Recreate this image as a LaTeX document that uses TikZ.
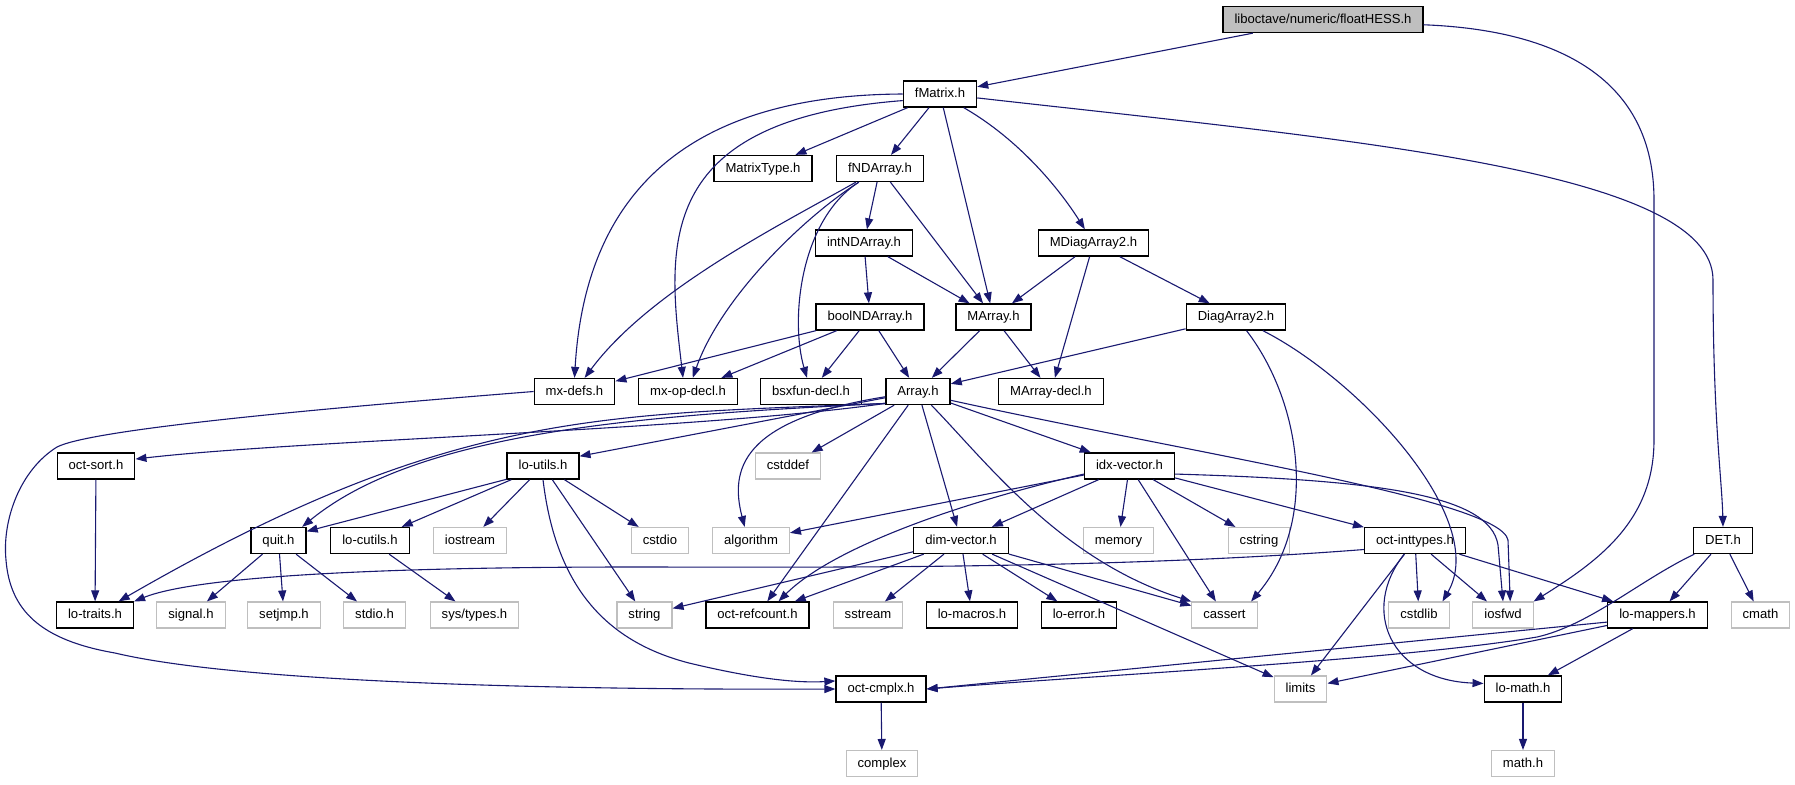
\documentclass[tikz,border=0pt]{standalone}
\usepackage{fontspec}
\setmainfont{Liberation Sans}
\usetikzlibrary{arrows.meta}
\definecolor{edgeblue}{HTML}{191970}
\definecolor{sysgray}{HTML}{BFBFBF}
\tikzset{
	hdr/.style={draw=black, fill=white, line width=0.65pt, inner xsep=5.75pt, inner ysep=0pt, minimum height=13pt, text height=4.8pt, text depth=1.2pt, font=\fontsize{6.55}{7.8}\selectfont},
	sys/.style={hdr, draw=sysgray, line width=0.55pt},
	root/.style={hdr, fill=sysgray},
	dep/.style={draw=edgeblue, line width=0.55pt, -{Triangle[length=5.5pt,width=4pt]}},
}

\begin{document}
\begin{tikzpicture}[x=0.5pt, y=-0.5pt]
			%%%%% START %%%%%
			
			\useasboundingbox (0,0) rectangle (1795,784);
			
			\node[root] (hess) at (1323,19.5) {liboctave/numeric/floatHESS.h};
			\node[hdr] (fmatrix) at (940,94) {fMatrix.h};
			
			\node[hdr] (mtype) at (763,168.5) {MatrixType.h};
			\node[hdr] (fnd) at (880,168.5) {fNDArray.h};
			
			\node[hdr] (intnd) at (864,243) {intNDArray.h};
			\node[hdr] (mdiag) at (1093.5,243) {MDiagArray2.h};
			
			\node[hdr] (boolnd) at (870,317) {boolNDArray.h};
			\node[hdr] (marray) at (993.5,317) {MArray.h};
			\node[hdr] (diag) at (1236,317) {DiagArray2.h};
			
			\node[hdr] (mxdefs) at (574.5,391.5) {mx-defs.h};
			\node[hdr] (mxop) at (688,391.5) {mx-op-decl.h};
			\node[hdr] (bsx) at (811,391.5) {bsxfun-decl.h};
			\node[hdr] (array) at (918,391.5) {Array.h};
			\node[hdr] (mdecl) at (1051,391.5) {MArray-decl.h};
			
			\node[hdr] (octsort) at (96,466) {oct-sort.h};
			\node[hdr] (loutils) at (543,466) {lo-utils.h};
			\node[sys] (cstddef) at (788,466) {cstddef};
			\node[hdr] (idx) at (1129.5,466) {idx-vector.h};
			
			\node[hdr] (quit) at (278.5,540.5) {quit.h};
			\node[hdr] (locutils) at (370,540.5) {lo-cutils.h};
			\node[sys] (iostream) at (470,540.5) {iostream};
			\node[sys] (cstdio) at (660,540.5) {cstdio};
			\node[sys] (algorithm) at (751,540.5) {algorithm};
			\node[hdr] (dimv) at (961,540.5) {dim-vector.h};
			\node[sys] (memory) at (1118.5,540.5) {memory};
			\node[sys] (cstring) at (1259,540.5) {cstring};
			\node[hdr] (inttypes) at (1415,540.5) {oct-inttypes.h};
			\node[hdr] (det) at (1723,540.5) {DET.h};
			
			\node[hdr] (lotraits) at (95,615) {lo-traits.h};
			\node[sys] (signal) at (191,615) {signal.h};
			\node[sys] (setjmp) at (284,615) {setjmp.h};
			\node[sys] (stdio) at (374.5,615) {stdio.h};
			\node[sys] (systypes) at (474.5,615) {sys/types.h};
			\node[sys] (string) at (644.5,615) {string};
			\node[hdr] (refcount) at (757.5,615) {oct-refcount.h};
			\node[sys] (sstream) at (868,615) {sstream};
			\node[hdr] (lomacros) at (972,615) {lo-macros.h};
			\node[hdr] (loerror) at (1079,615) {lo-error.h};
			\node[sys] (cassert) at (1224.5,615) {cassert};
			\node[sys] (cstdlib) at (1419,615) {cstdlib};
			\node[sys] (iosfwd) at (1503,615) {iosfwd};
			\node[hdr] (lomappers) at (1657.5,615) {lo-mappers.h};
			\node[sys] (cmath) at (1760.5,615) {cmath};
			
			\node[hdr] (cmplx) at (881,689) {oct-cmplx.h};
			\node[sys] (limits) at (1300.5,689) {limits};
			\node[hdr] (lomath) at (1523,689) {lo-math.h};
			
			\node[sys] (complex) at (882,763.5) {complex};
			\node[sys] (mathh) at (1523,763.5) {math.h};
			
			% floatHESS.h
			\draw[dep] (hess) -- (fmatrix);
			\draw[dep] (hess.357) .. controls (1560,30) and (1654,80) .. (1654,200) -- (1654,440) .. controls (1654,520) and (1600,560) .. (iosfwd.north east);
			
			% fMatrix.h
			\draw[dep] (fmatrix) -- (mtype);
			\draw[dep] (fmatrix) -- (fnd);
			\draw[dep] (fmatrix) -- (marray);
			\draw[dep] (fmatrix) .. controls (1020,140) and (1060,190) .. (mdiag);
			\draw[dep] (fmatrix.west) .. controls (680,95) and (585,200) .. (mxdefs.north);
			\draw[dep] (fmatrix.190) .. controls (650,120) and (668,250) .. (mxop.110);
			\draw[dep] (fmatrix.354) .. controls (1350,140) and (1713,170) .. (1713,280) .. controls (1713,420) and (1722,480) .. (det.north);
			
			% fNDArray.h, intNDArray.h, MDiagArray2.h
			\draw[dep] (fnd) -- (intnd);
			\draw[dep] (fnd) -- (marray);
			\draw[dep] (fnd) .. controls (780,225) and (650,290) .. (mxdefs);
			\draw[dep] (fnd) .. controls (800,220) and (720,300) .. (mxop);
			\draw[dep] (fnd) .. controls (800,220) and (790,320) .. (bsx);
			\draw[dep] (intnd) -- (boolnd);
			\draw[dep] (intnd) -- (marray);
			\draw[dep] (mdiag) -- (marray);
			\draw[dep] (mdiag) -- (mdecl);
			\draw[dep] (mdiag) -- (diag);
			
			% boolNDArray.h, MArray.h, DiagArray2.h
			\draw[dep] (boolnd) -- (mxdefs);
			\draw[dep] (boolnd) -- (mxop);
			\draw[dep] (boolnd) -- (bsx);
			\draw[dep] (boolnd) -- (array);
			\draw[dep] (marray) -- (array);
			\draw[dep] (marray) -- (mdecl);
			\draw[dep] (diag) -- (array);
			\draw[dep] (diag) .. controls (1300,400) and (1320,520) .. (cassert.27);
			\draw[dep] (diag) .. controls (1360,380) and (1490,520) .. (cstdlib.30);
			
			% mx-defs.h
			\draw[dep] (mxdefs.west) .. controls (300,410) and (90,430) .. (57,447) .. controls (20,470) and (2,520) .. (6,560) .. controls (10,610) and (40,640) .. (115,653) .. controls (250,685) and (600,690) .. (cmplx.west);
			
			% Array.h
			\draw[dep] (array.200) .. controls (700,430) and (300,440) .. (octsort.10);
			\draw[dep] (array) -- (loutils.15);
			\draw[dep] (array.200) .. controls (650,415) and (420,430) .. (quit.30);
			\draw[dep] (array.200) .. controls (600,415) and (450,410) .. (lotraits.30);
			\draw[dep] (array) -- (cstddef);
			\draw[dep] (array) .. controls (740,420) and (730,470) .. (algorithm.115);
			\draw[dep] (array) -- (refcount);
			\draw[dep] (array) -- (dimv);
			\draw[dep] (array) .. controls (985,460) and (1060,560) .. (cassert.north west);
			\draw[dep] (array) -- (idx);
			\draw[dep] (array.345) .. controls (1200,455) and (1500,500) .. (1508,540) -- (iosfwd.62);
			
			% oct-sort.h, lo-utils.h, quit.h, lo-cutils.h
			\draw[dep] (octsort) -- (lotraits);
			\draw[dep] (loutils.200) -- (quit.18);
			\draw[dep] (loutils) -- (locutils);
			\draw[dep] (loutils) -- (iostream);
			\draw[dep] (loutils) -- (cstdio);
			\draw[dep] (loutils) -- (string);
			\draw[dep] (loutils.south) .. controls (555,580) and (600,640) .. (689,663) .. controls (760,680) and (800,683) .. (cmplx.170);
			\draw[dep] (quit) -- (signal);
			\draw[dep] (quit) -- (setjmp);
			\draw[dep] (quit) -- (stdio);
			\draw[dep] (locutils) -- (systypes);
			
			% idx-vector.h
			\draw[dep] (idx) -- (algorithm);
			\draw[dep] (idx.190) .. controls (950,505) and (830,550) .. (refcount.33);
			\draw[dep] (idx) -- (dimv);
			\draw[dep] (idx) -- (memory);
			\draw[dep] (idx) -- (cassert);
			\draw[dep] (idx) -- (cstring);
			\draw[dep] (idx) -- (inttypes);
			\draw[dep] (idx.350) .. controls (1380,480) and (1490,495) .. (1498,545) -- (iosfwd.north);
			
			% dim-vector.h
			\draw[dep] (dimv) -- (string);
			\draw[dep] (dimv) -- (refcount);
			\draw[dep] (dimv) -- (sstream);
			\draw[dep] (dimv) -- (lomacros);
			\draw[dep] (dimv) -- (loerror);
			\draw[dep] (dimv) -- (cassert);
			\draw[dep] (dimv) -- (limits);
			
			% oct-inttypes.h
			\draw[dep] (inttypes.190) .. controls (1100,570) and (800,567) .. (631,567) .. controls (400,567) and (200,575) .. (lotraits.north east);
			\draw[dep] (inttypes) -- (limits);
			\draw[dep] (inttypes) .. controls (1360,610) and (1390,680) .. (lomath.172);
			\draw[dep] (inttypes) -- (cstdlib);
			\draw[dep] (inttypes) -- (iosfwd);
			\draw[dep] (inttypes) -- (lomappers);
			
			% DET.h, lo-mappers.h
			\draw[dep] (det) .. controls (1640,580) and (1590,625) .. (1537,637) .. controls (1400,660) and (1100,675) .. (cmplx.east);
			\draw[dep] (det) -- (lomappers);
			\draw[dep] (det) -- (cmath);
			\draw[dep] (lomappers.188) -- (cmplx.east);
			\draw[dep] (lomappers) -- (limits);
			\draw[dep] (lomappers) -- (lomath);
			
			% oct-cmplx.h, lo-math.h
			\draw[dep] (cmplx) -- (complex);
			\draw[dep] (lomath) -- (mathh);
			
			%%%%% END %%%%%
\end{tikzpicture}
\end{document}
